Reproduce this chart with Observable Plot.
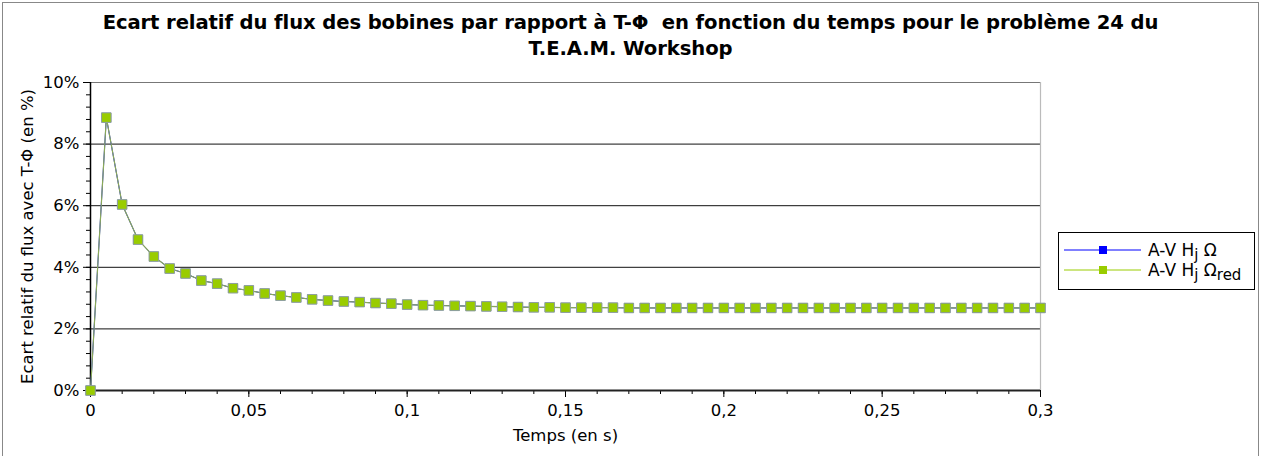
<!DOCTYPE html>
<html><head><meta charset="utf-8">
<script src="https://cdn.jsdelivr.net/npm/d3@7"></script>
<script src="https://cdn.jsdelivr.net/npm/@observablehq/plot@0.6"></script>
<style>
body{margin:0;background:#fff;}
#wrap{position:relative;width:1261px;height:456px;overflow:hidden;font-family:"DejaVu Sans",sans-serif;color:#000;background:#fff}
#border{position:absolute;left:2px;top:2px;width:1255px;height:470px;border:1px solid #888;}
#title{position:absolute;top:10px;left:0;width:1261px;text-align:center;font-weight:bold;font-size:19.6px;line-height:26px;font-family:"DejaVu Sans",sans-serif;letter-spacing:-0.1px}
#chart{position:absolute;top:62px;left:0}
#legend{position:absolute;left:1058px;top:232px;width:195px;height:56px;border:1px solid #000;background:#fff;font-size:17px}
#legend .row{position:absolute;left:0;height:20px;display:flex;align-items:center;white-space:nowrap}
#legend svg{display:block}
#legend span{margin-left:7px}
sub{font-size:15px;vertical-align:-4px;line-height:0}
</style></head>
<body>
<div id="wrap">
<div id="border"></div>
<div id="title">Ecart relatif du flux des bobines par rapport à T-Φ&nbsp; en fonction du temps pour le problème 24 du<br>T.E.A.M. Workshop</div>
<div id="chart"></div>
<div id="legend">
  <div class="row" style="top:7px"><svg width="82" height="14"><line x1="5" x2="82" y1="7" y2="7" stroke="#0000ff" stroke-width="1"/><rect x="40" y="3" width="8" height="8" fill="#0000ff"/></svg><span>A-V H<sub>j</sub> Ω</span></div>
  <div class="row" style="top:27px"><svg width="82" height="14"><line x1="5" x2="82" y1="7" y2="7" stroke="#99cc00" stroke-width="1"/><rect x="40" y="3" width="8" height="8" fill="#99cc00"/></svg><span>A-V H<sub>j</sub> Ω<sub>red</sub></span></div>
</div>
</div>
<script>
// Data
const temps = [0,0.005,0.01,0.015,0.02,0.025,0.03,0.035,0.04,0.045,0.05,0.055,0.06,0.065,0.07,0.075,0.08,0.085,0.09,0.095,0.1,0.105,0.11,0.115,0.12,0.125,0.13,0.135,0.14,0.145,0.15,0.155,0.16,0.165,0.17,0.175,0.18,0.185,0.19,0.195,0.2,0.205,0.21,0.215,0.22,0.225,0.23,0.235,0.24,0.245,0.25,0.255,0.26,0.265,0.27,0.275,0.28,0.285,0.29,0.295,0.3];
const ecartHjOmega = [0,8.86,6.04,4.90,4.35,3.96,3.80,3.57,3.47,3.32,3.25,3.15,3.08,3.02,2.96,2.92,2.89,2.87,2.84,2.82,2.79,2.77,2.76,2.75,2.74,2.73,2.72,2.71,2.70,2.70,2.69,2.69,2.69,2.69,2.68,2.68,2.68,2.68,2.68,2.68,2.68,2.68,2.68,2.68,2.68,2.68,2.68,2.68,2.68,2.68,2.68,2.68,2.68,2.68,2.68,2.68,2.68,2.68,2.68,2.68,2.68];
const ecartHjOmegaRed = [0,8.86,6.04,4.90,4.35,3.96,3.80,3.57,3.47,3.32,3.25,3.15,3.08,3.02,2.96,2.92,2.89,2.87,2.84,2.82,2.79,2.77,2.76,2.75,2.74,2.73,2.72,2.71,2.70,2.70,2.69,2.69,2.69,2.69,2.68,2.68,2.68,2.68,2.68,2.68,2.68,2.68,2.68,2.68,2.68,2.68,2.68,2.68,2.68,2.68,2.68,2.68,2.68,2.68,2.68,2.68,2.68,2.68,2.68,2.68,2.68];
const xTicks = [0,0.05,0.1,0.15,0.2,0.25,0.3];
const xMinorTicks = [0,0.01,0.02,0.03,0.04,0.05,0.06,0.07,0.08,0.09,0.1,0.11,0.12,0.13,0.14,0.15,0.16,0.17,0.18,0.19,0.2,0.21,0.22,0.23,0.24,0.25,0.26,0.27,0.28,0.29,0.3];
const yTicks = [0,2,4,6,8,10];
const yMinorTicks = [0,0.4,0.8,1.2,1.6,2,2.4,2.8,3.2,3.6,4,4.4,4.8,5.2,5.6,6,6.4,6.8,7.2,7.6,8,8.4,8.8,9.2,9.6,10];
const xLabel = "Temps (en s)";
const yLabel = "Ecart relatif du flux avec T-Φ (en %)";

const dataA = temps.map((t,i)=>({t, v: ecartHjOmega[i]}));
const dataB = temps.map((t,i)=>({t, v: ecartHjOmegaRed[i]}));

const chart = Plot.plot({
  width: 1261, height: 394,
  marginTop: 20, marginBottom: 66, marginLeft: 90, marginRight: 221,
  x: {domain: [0, 0.3]},
  y: {domain: [0, 10]},
  style: {fontFamily: "DejaVu Sans, sans-serif", fontSize: "16.5px", color: "#000", background: "transparent"},
  marks: [
    Plot.ruleY([2,4,6,8], {stroke: "#111", strokeWidth: 1}),
    Plot.ruleY([10], {stroke: "#777", strokeWidth: 1.2}),
    Plot.ruleX([0.3], {stroke: "#bbb", strokeWidth: 1.2}),
    Plot.axisY(yMinorTicks, {tickSize: 4, text: null, stroke: "#000", label: null}),
    Plot.axisY(yTicks, {tickSize: 7, tickPadding: 4, tickFormat: d => d + "%", stroke: "#000", label: null, fontSize: 16.5}),
    Plot.axisX(xMinorTicks, {tickSize: 4, text: null, stroke: "#000", label: null}),
    Plot.axisX(xTicks, {tickSize: 7, tickPadding: 7, tickFormat: d => String(d).replace(".", ","), stroke: "#000", label: null, fontSize: 16.5}),
    Plot.ruleX([0], {stroke: "#000", strokeWidth: 1.5}),
    Plot.ruleY([0], {stroke: "#222", strokeWidth: 2}),
    Plot.line(dataA, {x: "t", y: "v", stroke: "#0000ff", strokeWidth: 1}),
    Plot.dot(dataA, {x: "t", y: "v", symbol: "square", r: 5.4, fill: "#0000ff", stroke: "none"}),
    Plot.line(dataB, {x: "t", y: "v", stroke: "#8aa85a", strokeWidth: 1.2}),
    Plot.dot(dataB, {x: "t", y: "v", symbol: "square", r: 5.4, fill: "#99cc00", stroke: "#8fa0a0", strokeWidth: 1}),
    Plot.text([xLabel], {text: d => d, frameAnchor: "bottom", dy: 50, fontSize: 16.5}),
    Plot.text([yLabel], {text: d => d, frameAnchor: "left", textAnchor: "middle", dx: -63, rotate: -90, fontSize: 16.5})
  ]
});
document.getElementById("chart").appendChild(chart);
</script>
</body></html>
